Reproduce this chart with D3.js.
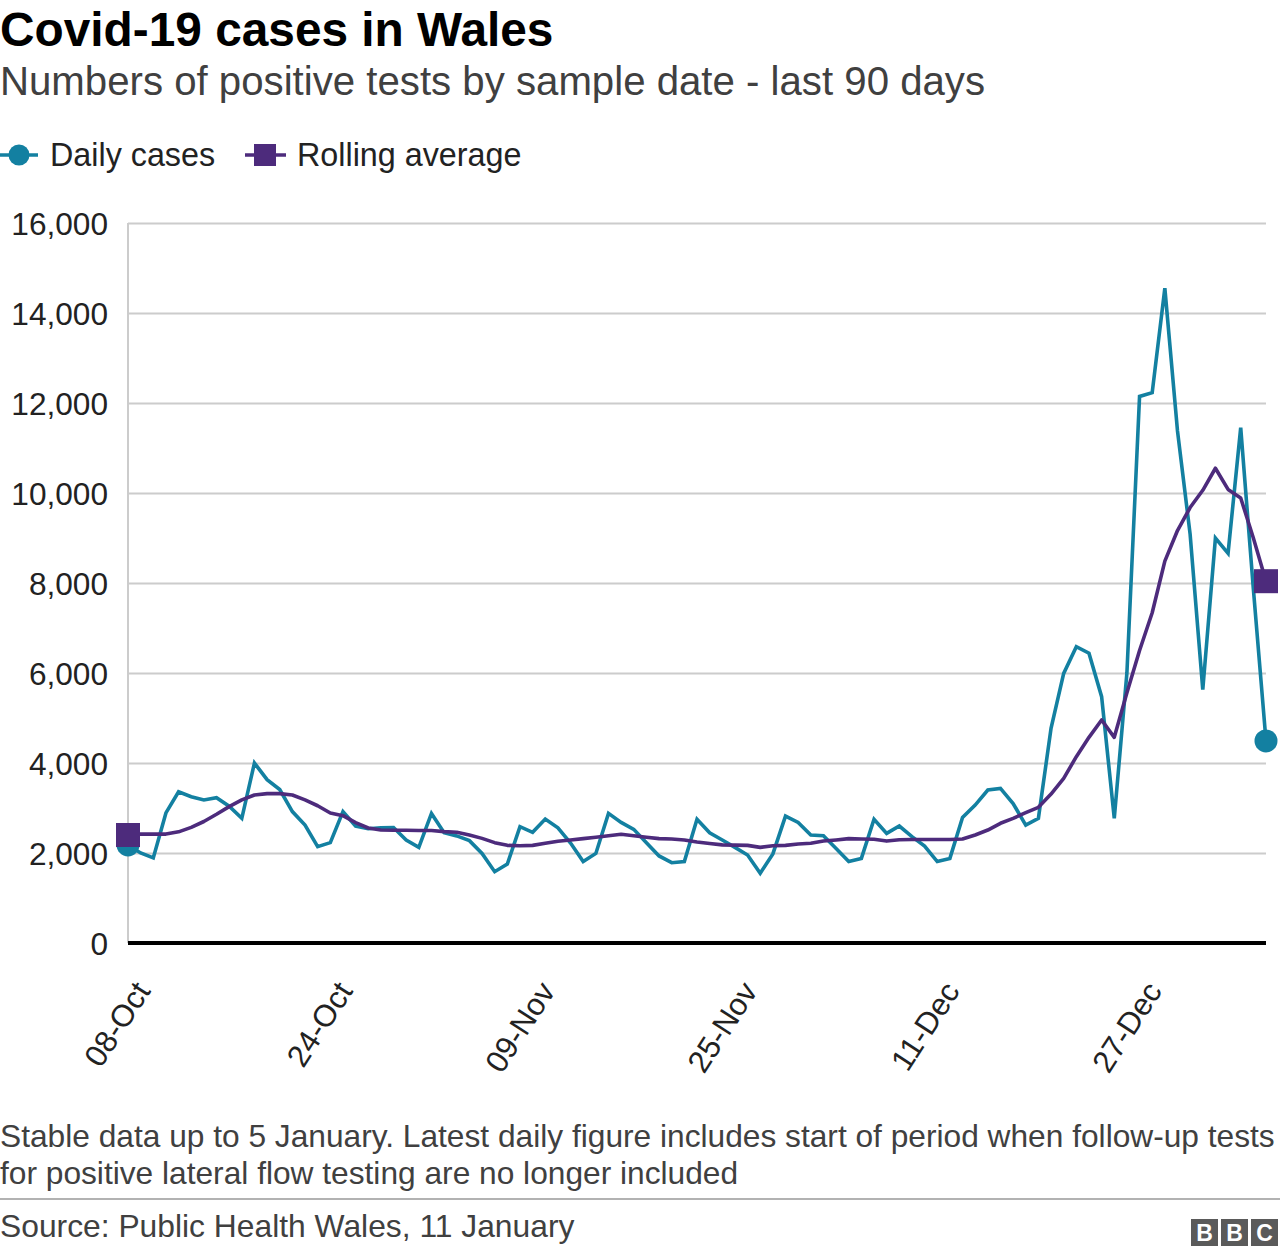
<!DOCTYPE html>
<html>
<head>
<meta charset="utf-8">
<script src="https://cdn.jsdelivr.net/npm/d3@7"></script>
<style>
  html, body { margin: 0; padding: 0; background: #fff; }
  svg { display: block; font-family: "Liberation Sans", Arial, Helvetica, sans-serif; }
</style>
</head>
<body>
<svg id="chart" width="1280" height="1254"></svg>
<script>
// ---------------- DATA ----------------
const startDate = "2021-10-08";
const endDate = "2022-01-06";
const dailyCases = [
  2180, 2000, 1890, 2890, 3360, 3250, 3180, 3230, 3040, 2770,
  4000, 3630, 3410, 2920, 2620, 2140, 2230, 2920, 2600, 2540,
  2560, 2565, 2290, 2125, 2880, 2450, 2380, 2275, 1990, 1585,
  1755, 2585, 2460, 2755, 2560, 2220, 1810, 1990, 2880, 2680,
  2525, 2230, 1935, 1785, 1810, 2750, 2450, 2290, 2125, 1955,
  1550, 1980, 2820, 2680, 2400, 2385, 2100, 1810, 1880, 2750,
  2435, 2600, 2365, 2155, 1810, 1880, 2790, 3065, 3400, 3435,
  3100, 2620, 2770, 4770, 5990, 6585, 6440, 5475, 2770, 6000,
  12145, 12230, 14550, 11380, 9080, 5630, 9000, 8660, 11450, 7870,
  4490
];
const rollingAverage = [
  2400, 2420, 2420, 2420, 2470, 2570, 2700, 2860, 3030, 3180,
  3290, 3320, 3320, 3290, 3180, 3050, 2890, 2830, 2675, 2555,
  2510, 2505, 2505, 2500, 2500, 2475, 2460, 2400, 2325, 2230,
  2170, 2160, 2170, 2215, 2260, 2290, 2320, 2350, 2385, 2415,
  2385, 2350, 2320, 2310, 2290, 2245, 2210, 2180, 2175, 2170,
  2125, 2160, 2170, 2200, 2215, 2265, 2290, 2320, 2310, 2305,
  2265, 2295, 2300, 2300, 2300, 2300, 2310, 2400, 2510, 2660,
  2770, 2895, 3015, 3310, 3660, 4140, 4570, 4955, 4570, 5560,
  6500, 7340, 8485, 9166, 9677, 10060, 10550, 10080, 9890, 9000,
  8040
];
const yTickValues = [0, 2000, 4000, 6000, 8000, 10000, 12000, 14000, 16000];
const xTickDates = ["2021-10-08", "2021-10-24", "2021-11-09", "2021-11-25", "2021-12-11", "2021-12-27"];
const xTickLabels = ["08-Oct", "24-Oct", "09-Nov", "25-Nov", "11-Dec", "27-Dec"];
const seriesNames = ["Daily cases", "Rolling average"];
const titleText = "Covid-19 cases in Wales";
const subtitleText = "Numbers of positive tests by sample date - last 90 days";
const noteLines = [
  "Stable data up to 5 January. Latest daily figure includes start of period when follow-up tests",
  "for positive lateral flow testing are no longer included"
];
const sourceText = "Source: Public Health Wales, 11 January";

// ---------------- SETUP ----------------
const TEAL = "#1380a1";
const PURPLE = "#4d2b7c";
const svg = d3.select("#chart");
const parse = d3.utcParse("%Y-%m-%d");
const dates = d3.utcDay.range(parse(startDate), d3.utcDay.offset(parse(endDate), 1));

const plotLeft = 128, plotRight = 1266, plotTop = 223, plotBottom = 943;

const x = d3.scaleUtc().domain([dates[0], dates[dates.length - 1]]).range([plotLeft, plotRight]);
const y = d3.scaleLinear().domain([0, 16000]).range([plotBottom, plotTop]);

// Title & subtitle
svg.append("text").attr("x", 0).attr("y", 46)
  .attr("font-size", 47.8).attr("font-weight", "bold").attr("fill", "#000")
  .text(titleText);
svg.append("text").attr("x", 0).attr("y", 95)
  .attr("font-size", 40.2).attr("fill", "#404040")
  .text(subtitleText);

// Legend
const leg = svg.append("g");
leg.append("line").attr("x1", 0).attr("x2", 38).attr("y1", 155).attr("y2", 155)
  .attr("stroke", TEAL).attr("stroke-width", 3.5);
leg.append("circle").attr("cx", 19).attr("cy", 155).attr("r", 10.5).attr("fill", TEAL);
leg.append("text").attr("x", 50).attr("y", 166).attr("font-size", 32.3).attr("fill", "#222")
  .text(seriesNames[0]);
leg.append("line").attr("x1", 245).attr("x2", 286).attr("y1", 155).attr("y2", 155)
  .attr("stroke", PURPLE).attr("stroke-width", 3.5);
leg.append("rect").attr("x", 254).attr("y", 144).attr("width", 22).attr("height", 22).attr("fill", PURPLE);
leg.append("text").attr("x", 297).attr("y", 166).attr("font-size", 32.3).attr("fill", "#222")
  .text(seriesNames[1]);

// Y axis with gridlines
const yAxis = d3.axisLeft(y).tickValues(yTickValues)
  .tickSize(-(plotRight - plotLeft)).tickPadding(20)
  .tickFormat(d3.format(","));
const gy = svg.append("g").attr("transform", `translate(${plotLeft},0)`).call(yAxis);
gy.select(".domain").remove();
gy.selectAll(".tick line").attr("stroke", "#cccccc").attr("stroke-width", 2)
  .filter(d => d === 0).remove();
gy.selectAll(".tick text").attr("font-size", 31.6).attr("fill", "#222")
  .attr("font-family", "Liberation Sans, Arial, sans-serif").attr("dy", "0.35em");

// vertical axis line
svg.append("line").attr("x1", plotLeft).attr("x2", plotLeft).attr("y1", plotTop).attr("y2", plotBottom)
  .attr("stroke", "#cccccc").attr("stroke-width", 2);

// X axis
const xAxis = d3.axisBottom(x).tickValues(xTickDates.map(parse))
  .tickSize(0).tickFormat((d, i) => xTickLabels[i]);
const gx = svg.append("g").attr("transform", `translate(0,${plotBottom})`).call(xAxis);
gx.select(".domain").remove();
gx.selectAll(".tick text")
  .attr("font-size", 31).attr("fill", "#222")
  .attr("font-family", "Liberation Sans, Arial, sans-serif")
  .attr("text-anchor", "end")
  .attr("transform", "translate(23,48) rotate(-57)")
  .attr("x", 0).attr("y", 0).attr("dy", 0);

// Lines
const lineGen = d3.line().x((d, i) => x(dates[i])).y(d => y(d)).curve(d3.curveLinear);
svg.append("path").datum(dailyCases).attr("d", lineGen)
  .attr("fill", "none").attr("stroke", TEAL).attr("stroke-width", 3.6).attr("stroke-linejoin", "miter");
svg.append("path").datum(rollingAverage).attr("d", lineGen)
  .attr("fill", "none").attr("stroke", PURPLE).attr("stroke-width", 3.6).attr("stroke-linejoin", "round");

// Zero baseline
svg.append("line").attr("x1", plotLeft).attr("x2", plotRight).attr("y1", y(0)).attr("y2", y(0))
  .attr("stroke", "#000").attr("stroke-width", 4);

// End markers
const lastI = dailyCases.length - 1;
[0, lastI].forEach(i => {
  svg.append("circle").attr("cx", x(dates[i])).attr("cy", y(dailyCases[i])).attr("r", 11.5).attr("fill", TEAL);
});
[0, lastI].forEach(i => {
  svg.append("rect").attr("x", x(dates[i]) - 12).attr("y", y(rollingAverage[i]) - 12)
    .attr("width", 24).attr("height", 24).attr("fill", PURPLE);
});

// Footnote
noteLines.forEach((t, i) => {
  svg.append("text").attr("x", 0).attr("y", 1147 + i * 37).attr("font-size", 31.7).attr("fill", "#404040").text(t);
});
svg.append("line").attr("x1", 0).attr("x2", 1280).attr("y1", 1199).attr("y2", 1199)
  .attr("stroke", "#999").attr("stroke-width", 1.5);
svg.append("text").attr("x", 0).attr("y", 1237).attr("font-size", 31.8).attr("fill", "#404040").text(sourceText);

// BBC logo
const logo = svg.append("g");
["B", "B", "C"].forEach((ch, i) => {
  const bx = 1191 + i * 30;
  logo.append("rect").attr("x", bx).attr("y", 1219).attr("width", 27).attr("height", 27).attr("fill", "#5a5a5a");
  logo.append("text").attr("x", bx + 13.5).attr("y", 1241).attr("text-anchor", "middle")
    .attr("font-size", 23).attr("font-weight", "bold").attr("fill", "#fff").text(ch);
});
</script>
</body>
</html>
